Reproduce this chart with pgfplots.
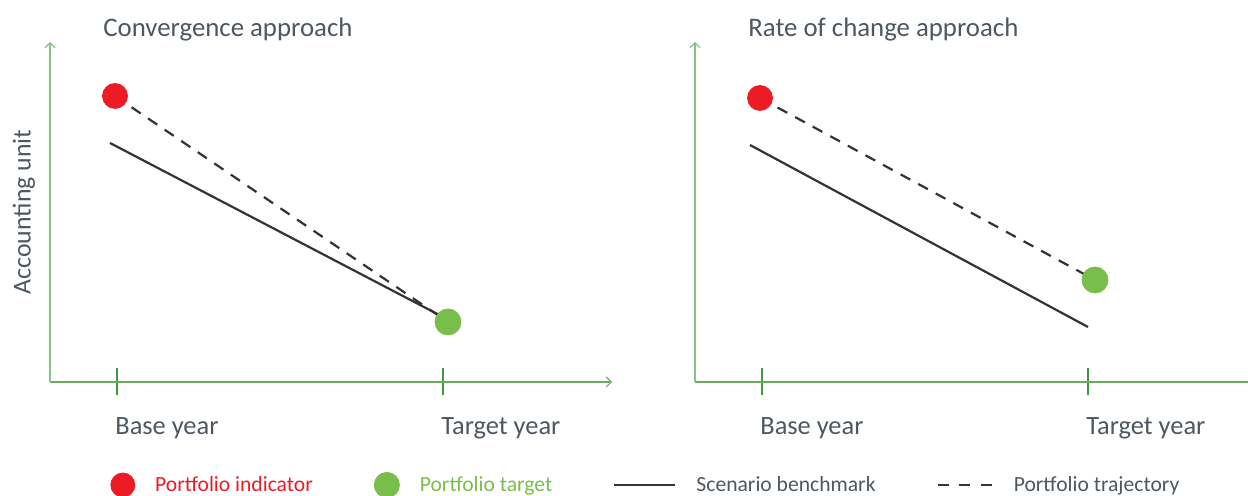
\documentclass[border=0pt]{standalone}
\usepackage{fontspec}
\setmainfont{Carlito}
\usepackage{pgfplots}
\pgfplotsset{compat=1.18}
\usetikzlibrary{arrows.meta}
\definecolor{pred}{HTML}{ED1C24}
\definecolor{pgreen}{HTML}{78BE4A}
\definecolor{textgray}{HTML}{4D5761}
\definecolor{axgreen}{HTML}{6AAE5C}
\definecolor{ygreen}{HTML}{86C486}
\definecolor{tickgreen}{HTML}{3E9A46}
\definecolor{linec}{HTML}{333333}
\begin{document}
\begin{tikzpicture}
\path[use as bounding box] (0,0) rectangle (624pt,248pt);
\pgfplotsset{myax/.style={
  scale only axis, height=170pt, xmin=0, ymin=0, ymax=340,
  axis lines=left,
  x axis line style={draw=axgreen, line width=0.6pt, -{Straight Barb[length=2.5pt,width=5pt]}},
  y axis line style={draw=ygreen, line width=0.6pt, -{Straight Barb[length=2.5pt,width=5pt]}},
  xtick={67,393}, xticklabels={Base year, Target year}, ytick=\empty,
  xtick align=center, major tick length=13.5pt,
  major tick style={draw=tickgreen, line width=1.1pt},
  xticklabel style={anchor=base west, inner sep=0pt, text=textgray, font=\fontsize{13.2}{15}\selectfont, xshift=-1pt, yshift=-19.5pt},
  title style={anchor=base west, inner sep=0pt, text=textgray, font=\fontsize{13.4}{16}\selectfont, yshift=-3.5pt},
  clip=false,
}}
\begin{axis}[myax, at={(25pt,57pt)}, anchor=south west, width=281pt, xmax=562,
  title={Convergence approach}, title style={at={(0.0943,1)}},
  ylabel={Accounting unit},
  ylabel style={at={(axis description cs:-0.0463,0.5)}, anchor=center, inner sep=0pt, text=textgray, font=\fontsize{12.9}{15}\selectfont},
  legend columns=4, legend cell align=left,
  legend style={at={(0.1068,-0.303)}, anchor=west, draw=none, fill=none, inner sep=0pt,
    font=\fontsize{10.8}{13}\selectfont, text=textgray, nodes={inner sep=0pt},
    /tikz/every odd column/.append style={column sep=10pt},
    /tikz/every even column/.append style={column sep=30.5pt}},
]
\addplot[linec, line width=1.1pt, forget plot] coordinates {(60,239) (395,64)};
\addplot[linec, line width=1.1pt, dash pattern=on 5.5pt off 4.5pt, forget plot] coordinates {(65,286) (398,60)};
\addplot[only marks, mark=*, color=pred, mark size=6.25pt, forget plot] coordinates {(65,286)};
\addplot[only marks, mark=*, color=pgreen, mark size=6.5pt, forget plot] coordinates {(398,60)};
\addlegendimage{legend image code/.code={\fill[pred] (6pt,0pt) circle (6pt);}}
\addlegendentry{\textcolor{pred}{Portfolio indicator}}
\addlegendimage{legend image code/.code={\fill[pgreen] (6.3pt,0pt) circle (6.3pt);}}
\addlegendentry{\textcolor{pgreen}{Portfolio target}}
\addlegendimage{legend image code/.code={\draw[linec, line width=1.1pt] (0pt,0pt) -- (30.5pt,0pt);}}
\addlegendentry{Scenario benchmark}
\addlegendimage{legend image code/.code={\draw[linec, line width=1.1pt, dash pattern=on 5.5pt off 5.3pt] (0pt,0pt) -- (27.5pt,0pt);}}
\addlegendentry{Portfolio trajectory}
\end{axis}
\begin{axis}[myax, at={(347.5pt,57pt)}, anchor=south west, width=276.5pt, xmax=553,
  x axis line style={-},
  title={Rate of change approach}, title style={at={(0.0958,1)}},
]
\addplot[linec, line width=1.1pt] coordinates {(55,237) (393,55)};
\addplot[linec, line width=1.1pt, dash pattern=on 5.5pt off 4.5pt] coordinates {(65,284) (400,102)};
\addplot[only marks, mark=*, color=pred, mark size=6.25pt] coordinates {(65,284)};
\addplot[only marks, mark=*, color=pgreen, mark size=6.5pt] coordinates {(400,102)};
\end{axis}
\end{tikzpicture}
\end{document}
